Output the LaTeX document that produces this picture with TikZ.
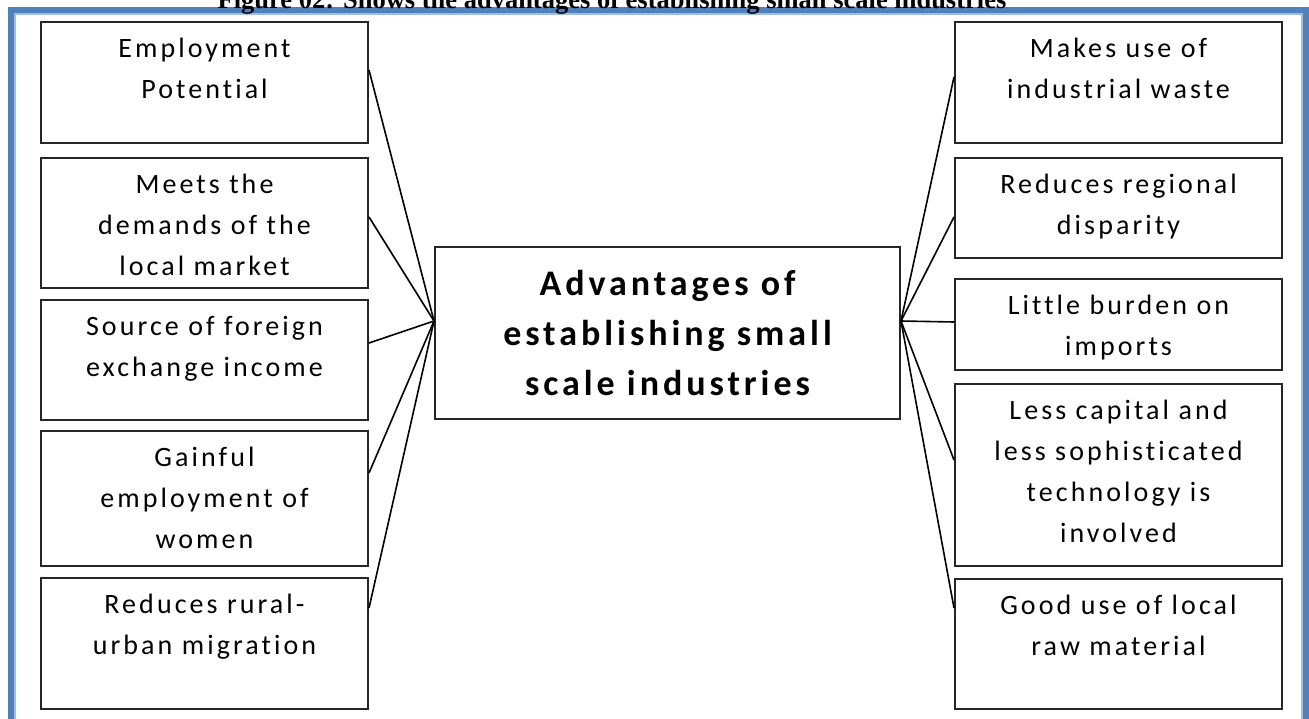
\documentclass[tikz,border=0pt]{standalone}
\usepackage{fontspec}
\newfontfamily\boxfont[LetterSpace=11,Ligatures={NoCommon}]{Carlito}
\newfontfamily\capfont{Liberation Serif}
\usetikzlibrary{calc,positioning}
\definecolor{frameblue}{RGB}{79,129,189}
\definecolor{framelight}{RGB}{160,188,222}

\begin{document}
\begin{tikzpicture}[x=1pt,y=-1pt,
  sbox/.style={draw=black!85, line width=2pt, minimum width=327pt, minimum height=#1,
    inner sep=0pt, anchor=north west},
  stext/.style={font=\boxfont\fontsize{28}{41}\selectfont, align=center, inner sep=0pt},
  hubbox/.style={draw=black!85, line width=2pt, minimum width=465pt, minimum height=172pt,
    inner sep=0pt, align=center, font=\boxfont\bfseries\fontsize{36}{50}\selectfont},
  link/.style={black, line width=1.6pt}]
\useasboundingbox (0,0) rectangle (1309,718);
\clip (0,0) rectangle (1309,718);

% frame and caption
\draw[frameblue, line width=6pt] (11,10) rectangle (1306,740);
\draw[framelight, line width=2pt] (15,14) rectangle (1302,736);
\node[font=\capfont\bfseries\fontsize{26.5}{30}\selectfont, anchor=base, inner sep=0pt] (title) at (612,8)
  {Figure 02: Shows the advantages of establishing small scale industries};

% centre box
\node[hubbox] (hub) at (667.5,333) {Advantages of\\establishing small\\scale industries};
\coordinate (hl) at ($(hub.north west)+(0,75)$);
\coordinate (hr) at ($(hub.north east)+(0,75)$);

% left column
\node[sbox=121pt] (l1) at (40,21) {};
\node[sbox=130pt] (l2) at (40,157) {};
\node[sbox=120pt] (l3) at (40,299) {};
\node[sbox=135pt] (l4) at (40,430) {};
\node[sbox=131pt] (l5) at (40,577) {};
\node[stext, below=17pt of l1.north] (l1t) {Employment\\Potential};
\node[stext, below=17pt of l2.north] (l2t) {Meets the\\demands of the\\local market};
\node[stext, below=17pt of l3.north] (l3t) {Source of foreign\\exchange income};
\node[stext, below=17pt of l4.north] (l4t) {Gainful\\employment of\\women};
\node[stext, below=17pt of l5.north] (l5t) {Reduces rural-\\urban migration};

% right column
\node[sbox=121pt] (r1) at (954,21) {};
\node[sbox=100pt] (r2) at (954,157) {};
\node[sbox=91pt] (r3) at (954,278) {};
\node[sbox=182pt] (r4) at (954,383) {};
\node[sbox=130pt] (r5) at (954,578) {};
\node[stext, below=17pt of r1.north] (r1t) {Makes use of\\industrial waste};
\node[stext, below=17pt of r2.north] (r2t) {Reduces regional\\disparity};
\node[stext, below=17pt of r3.north] (r3t) {Little burden on\\imports};
\node[stext, below=17pt of r4.north] (r4t) {Less capital and\\less sophisticated\\technology is\\involved};
\node[stext, below=17pt of r5.north] (r5t) {Good use of local\\raw material};

% connectors
\draw[link] ($(l1.north east)+(0,49)$) -- (hl);
\draw[link] ($(l2.north east)+(0,60)$) -- (hl);
\draw[link] ($(l3.north east)+(0,44)$) -- (hl);
\draw[link] ($(l4.north east)+(0,43)$) -- (hl);
\draw[link] ($(l5.north east)+(0,31)$) -- (hl);
\draw[link] ($(r1.north west)+(0,56)$) -- (hr);
\draw[link] ($(r2.north west)+(0,60)$) -- (hr);
\draw[link] ($(r3.north west)+(0,44)$) -- (hr);
\draw[link] ($(r4.north west)+(0,77)$) -- (hr);
\draw[link] ($(r5.north west)+(0,30)$) -- (hr);
\end{tikzpicture}
\end{document}
